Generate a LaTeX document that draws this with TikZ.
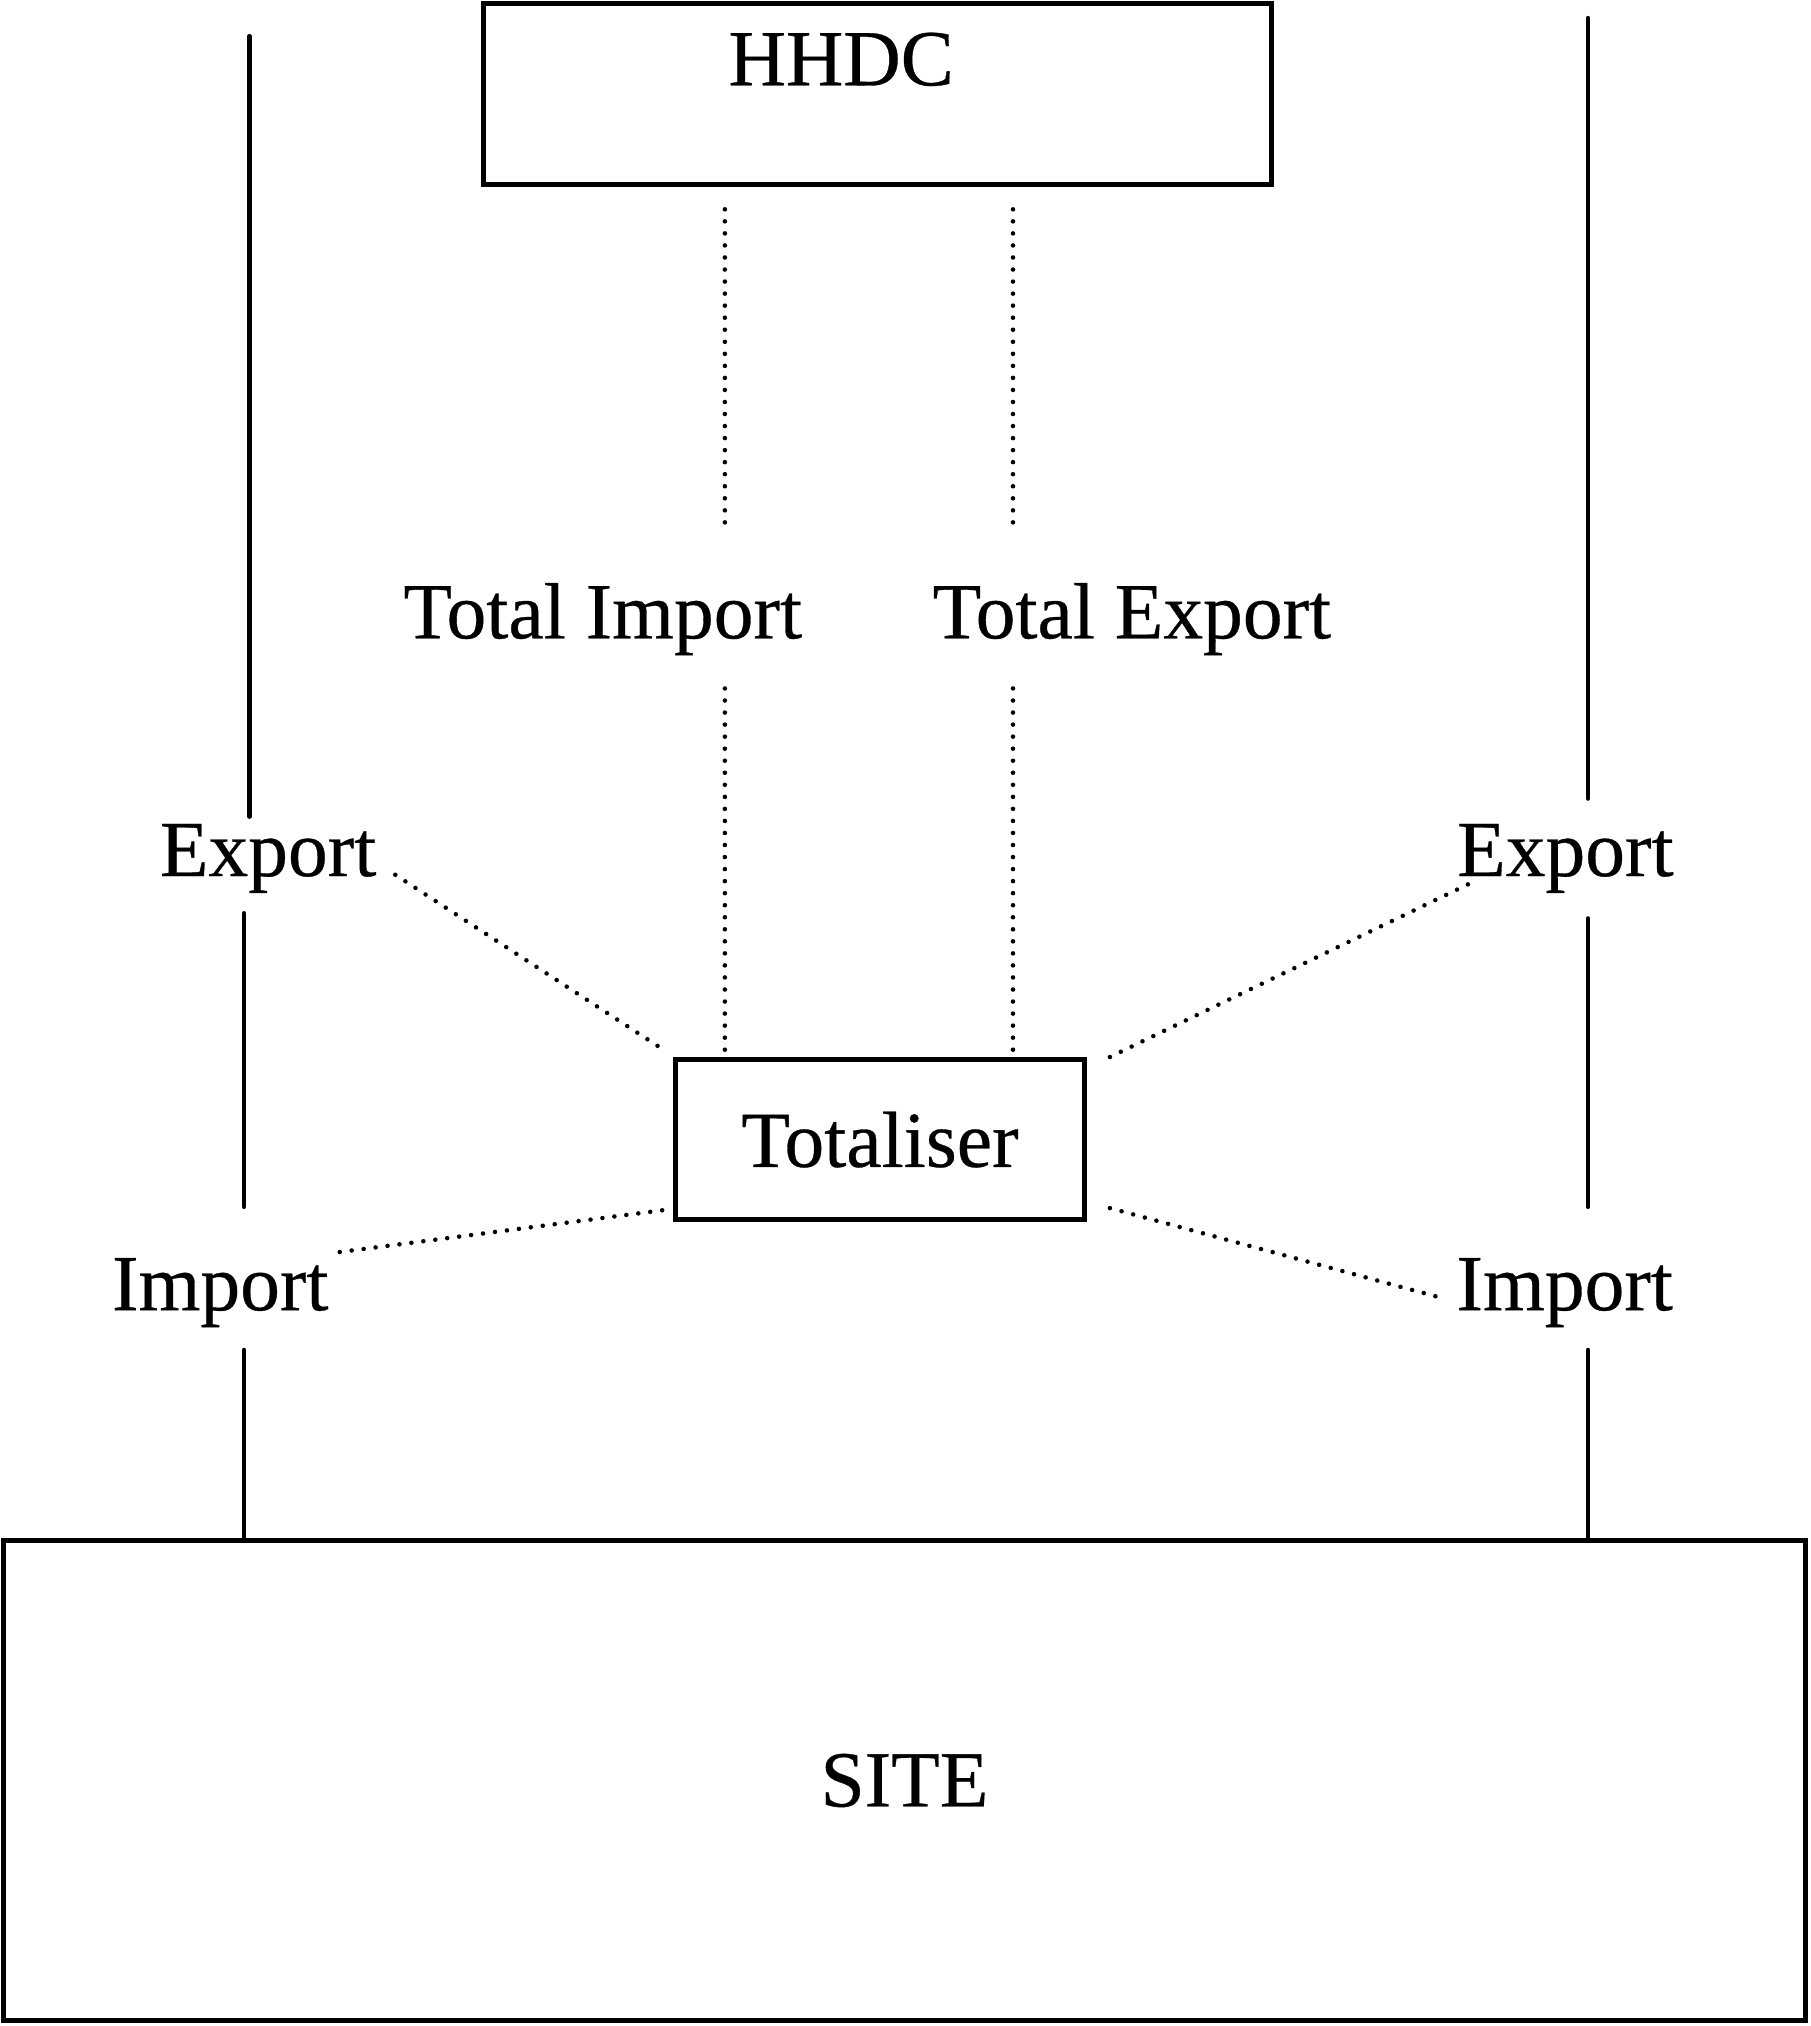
\documentclass[tikz,border=0pt]{standalone}
\usepackage{fontspec}
\setmainfont[FakeBold=0.4]{Liberation Serif}
\usetikzlibrary{calc}
\begin{document}
\begin{tikzpicture}[
            x=0.01cm, y=-0.01cm,
            every node/.style={font=\fontsize{17.5}{21}\selectfont},
            box/.style={draw,line width=1.1pt,inner sep=0pt},
            lbl/.style={inner sep=0pt,anchor=base},
            wire/.style={line width=1pt,line cap=round},
            dots/.style={line width=1pt,line cap=round,dash pattern=on 0pt off 2.65pt},
        ]
            \useasboundingbox (0,0) rectangle (1401,1568);

            %--- Boxes ---%
            \node[box,minimum width=6.1cm,minimum height=1.4cm] (hhdc) at (679,73) {};
            \node[lbl] (hhdcText) at (651,66) {HHDC};
            \node[box,minimum width=3.16cm,minimum height=1.24cm] (tot) at (681,882) {Totaliser};
            \node[box,minimum width=13.94cm,minimum height=3.72cm] (site) at (700,1378) {SITE};

            %--- Labels ---%
            \node[lbl] (timp) at (466.5,494) {Total Import};
            \node[lbl] (texp) at (876,494) {Total Export};
            \node[lbl] (expL) at (207.5,678) {Export};
            \node[lbl] (expR) at (1211.5,678) {Export};
            \node[lbl] (impL) at (170.5,1014) {Import};
            \node[lbl] (impR) at (1211,1014) {Import};

            %--- Wire positions ---%
            \coordinate (lTop) at (193,28);
            \coordinate (lLow) at (189,0);
            \coordinate (rTop) at (1229,14);
            \coordinate (rLow) at (1229,0);
            \coordinate (tix) at (561,0);
            \coordinate (tex) at (784,0);

            %--- Solid wires (meters) ---%
            \draw[wire,shorten >=0.05cm] (lTop) -- (lTop |- expL.north);
            \draw[wire,shorten <=0.15cm,shorten >=0.39cm] (expL.south -| lLow) -- (impL.north -| lLow);
            \draw[wire,shorten <=0.17cm] (impL.south -| lLow) -- (site.north -| lLow);
            \draw[wire,shorten >=0.19cm] (rTop) -- (rTop |- expR.north);
            \draw[wire,shorten <=0.19cm,shorten >=0.39cm] (expR.south -| rLow) -- (impR.north -| rLow);
            \draw[wire,shorten <=0.17cm] (impR.south -| rLow) -- (site.north -| rLow);

            %--- Dotted links: HHDC -> totals -> Totaliser ---%
            \draw[dots,shorten <=0.17cm,shorten >=0.40cm] (hhdc.south -| tix) -- (timp.north -| tix);
            \draw[dots,shorten <=0.25cm,shorten >=0.05cm] (timp.south -| tix) -- (tot.north -| tix);
            \draw[dots,shorten <=0.17cm,shorten >=0.40cm] (hhdc.south -| tex) -- (texp.north -| tex);
            \draw[dots,shorten <=0.25cm,shorten >=0.05cm] (texp.south -| tex) -- (tot.north -| tex);

            %--- Dotted links: meters -> Totaliser ---%
            \draw[dots] ($(expL.base east)+(14,-1)$) -- ($(tot.north west)+(-5,-4)$);
            \draw[dots] ($(tot.north east)+(18,0)$) -- ($(expR.base west)+(12,5)$);
            \draw[dots] ($(impL.base east)+(8,-45)$) -- ($(tot.south west)+(-3,-10)$);
            \draw[dots] ($(tot.south east)+(18,-11)$) -- ($(impR.base west)+(-9,-9)$);

        \end{tikzpicture}
\end{document}
